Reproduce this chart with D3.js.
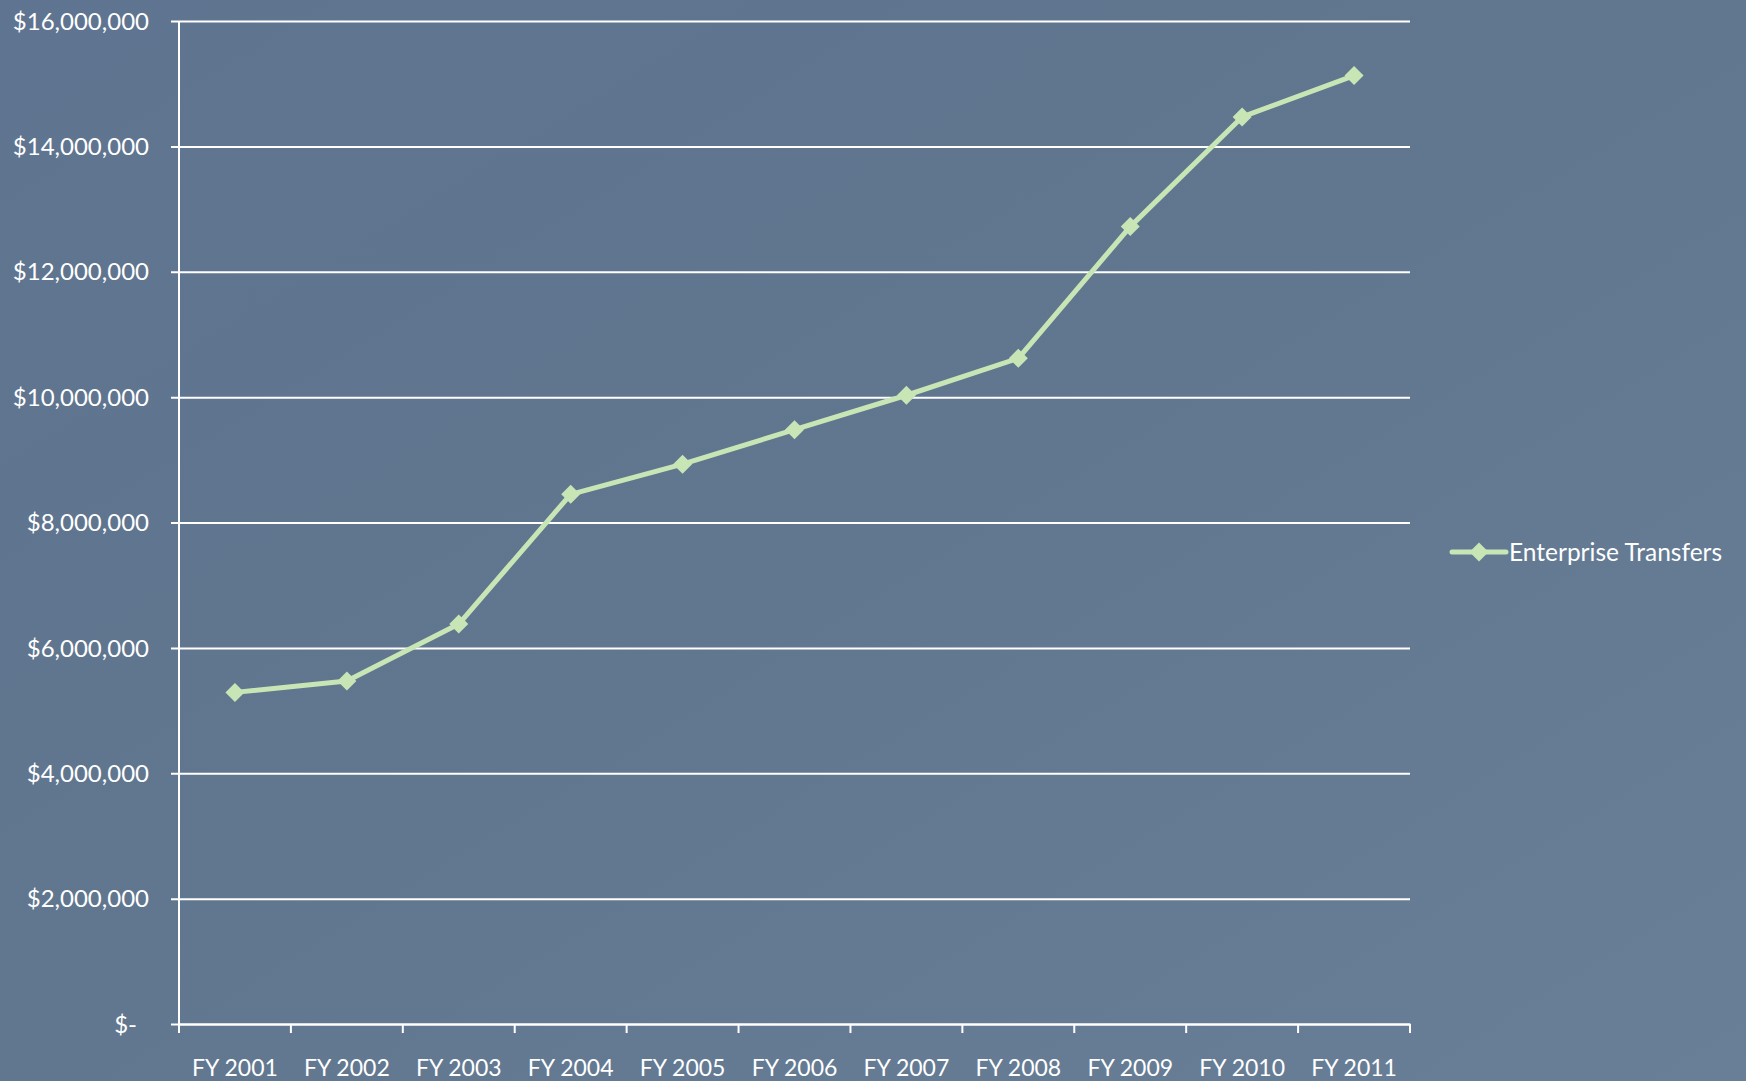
<!DOCTYPE html>
<html><head><meta charset="utf-8">
<script src="https://cdn.jsdelivr.net/npm/d3@7"></script>
<style>
html,body{margin:0;padding:0;overflow:hidden;}
svg{display:block;}
text{font-family:"Lato","Open Sans",sans-serif;fill:#ffffff;}
</style></head>
<body>
<script>
const categories = ["FY 2001","FY 2002","FY 2003","FY 2004","FY 2005","FY 2006","FY 2007","FY 2008","FY 2009","FY 2010","FY 2011"];
const seriesName = "Enterprise Transfers";
const values = [5290000, 5470000, 6380000, 8450000, 8930000, 9480000, 10030000, 10620000, 12720000, 14470000, 15130000];
const yTicks = [0, 2000000, 4000000, 6000000, 8000000, 10000000, 12000000, 14000000, 16000000];

const W = 1746, H = 1081;
const m = {left: 179, right: 1410, top: 21, bottom: 1024};
const svg = d3.select("body").append("svg").attr("width", W).attr("height", H);

const defs = svg.append("defs");
const g1 = defs.append("linearGradient").attr("id","bg").attr("x1","0").attr("y1","0").attr("x2","1").attr("y2","1");
g1.append("stop").attr("offset","0").attr("stop-color","#5e7490");
g1.append("stop").attr("offset","0.5").attr("stop-color","#61778f");
g1.append("stop").attr("offset","1").attr("stop-color","#687f97");
svg.append("rect").attr("width",W).attr("height",H).attr("fill","url(#bg)");

const x = d3.scaleBand().domain(categories).range([m.left, m.right]);
const y = d3.scaleLinear().domain([0,16000000]).range([m.bottom, m.top]);

const fmt = v => v === 0 ? "$-" : "$" + d3.format(",")(v);

// gridlines + y axis
const yAxis = d3.axisLeft(y).tickValues(yTicks).tickFormat(fmt).tickSize(m.right - m.left + 8);
const ya = svg.append("g").attr("transform",`translate(${m.right},0)`).call(yAxis);
ya.select(".domain").remove();
ya.selectAll(".tick line").attr("stroke","#ffffff").attr("stroke-width",2);
ya.selectAll(".tick text").attr("font-size",24).attr("fill","#ffffff").attr("dy","0.34em")
  .attr("x", d => -(m.right - m.left) - (d === 0 ? 42 : 30));

// y axis line
svg.append("line").attr("x1",m.left).attr("x2",m.left).attr("y1",m.top).attr("y2",m.bottom)
  .attr("stroke","#ffffff").attr("stroke-width",2);

// x axis
const xa = svg.append("g").attr("transform",`translate(0,${m.bottom})`)
  .call(d3.axisBottom(x).tickSize(0).tickPadding(36));
xa.select(".domain").attr("stroke","#ffffff").attr("stroke-width",2);
xa.selectAll(".tick text").attr("font-size",23).attr("fill","#ffffff");
// band boundary ticks
const bounds = categories.map(c => x(c)).concat([m.right]);
svg.append("g").selectAll("line").data(bounds).join("line")
  .attr("x1",d=>d).attr("x2",d=>d).attr("y1",m.bottom).attr("y2",m.bottom+9)
  .attr("stroke","#ffffff").attr("stroke-width",2);

const lineColor = "#c8e5b5";
const cx = c => x(c) + x.bandwidth()/2;
const line = d3.line().x((d,i)=>cx(categories[i])).y(d=>y(d));
svg.append("path").datum(values).attr("d",line).attr("fill","none")
  .attr("stroke",lineColor).attr("stroke-width",5).attr("stroke-linejoin","round");

const diamond = d3.symbol().type(d3.symbolDiamond2).size(230);
svg.append("g").selectAll("path").data(values).join("path")
  .attr("d",diamond).attr("fill",lineColor)
  .attr("transform",(d,i)=>`translate(${cx(categories[i])},${y(d)})`);

// legend
const lg = svg.append("g").attr("transform","translate(1452,552)");
lg.append("line").attr("x1",0).attr("x2",54).attr("stroke",lineColor).attr("stroke-width",5).attr("stroke-linecap","round");
lg.append("path").attr("d",diamond).attr("fill",lineColor).attr("transform","translate(27,0)");
lg.append("text").attr("x",57).attr("y",0).attr("dy","0.35em").attr("font-size",24.5).text(seriesName);
</script>
</body></html>
